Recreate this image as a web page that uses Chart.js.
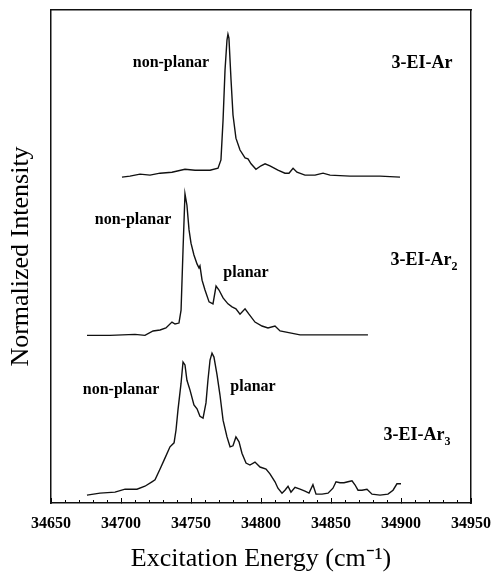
<!DOCTYPE html>
<html>
<head>
<meta charset="utf-8">
<script src="https://cdn.jsdelivr.net/npm/chart.js@4/dist/chart.umd.min.js"></script>
<style>
  html, body { margin: 0; padding: 0; background: #fff; }
  canvas { display: block; }
</style>
</head>
<body>
<canvas id="spectraChart" width="494" height="575"></canvas>
<script>
// excitation energies (cm-1) and normalized intensity (offset traces, 0-100 scale)
var arEnergy = [34700.7, 34706.4, 34713.6, 34720.7, 34727.9, 34736.4, 34745.7, 34752.9, 34763.6, 34769.3,
    34771.4, 34772.9, 34774.3, 34775.7, 34776.4, 34777.1, 34778.6, 34780.0, 34782.1, 34785.0,
    34788.6, 34790.7, 34792.9, 34796.4, 34800.0, 34802.9, 34806.4, 34812.1, 34817.1, 34820.0,
    34822.9, 34825.7, 34831.4, 34838.6, 34844.3, 34849.3, 34863.6, 34885.0, 34899.3];
var arIntensity = [66.1, 66.3, 66.7, 66.5, 66.9, 67.1, 67.7, 67.5, 67.5, 67.9,
    69.6, 77.7, 87.8, 93.9, 95.1, 94.3, 85.8, 78.7, 74.0, 71.6,
    70.0, 69.8, 68.8, 67.7, 68.4, 68.8, 68.4, 67.5, 66.9, 66.9,
    67.9, 67.1, 66.5, 66.5, 66.9, 66.5, 66.3, 66.3, 66.1];

var ar2Energy = [34675.7, 34692.1, 34710.0, 34717.1, 34722.9, 34727.9, 34732.1, 34736.4, 34738.6, 34741.4,
    34742.9, 34744.3, 34745.7, 34747.1, 34748.6, 34750.0, 34752.1, 34754.3, 34755.7, 34756.4,
    34757.9, 34760.0, 34762.9, 34765.7, 34767.9, 34770.0, 34772.9, 34776.4, 34779.3, 34782.1,
    34785.0, 34788.6, 34791.4, 34795.7, 34800.7, 34805.0, 34810.0, 34813.6, 34820.7, 34827.9,
    34842.1, 34856.4, 34876.4];
var ar2Intensity = [34.0, 34.0, 34.2, 34.0, 34.9, 35.1, 35.5, 36.7, 36.3, 36.5,
    39.1, 51.3, 62.7, 60.4, 55.4, 52.7, 50.3, 48.5, 47.7, 48.1,
    45.2, 43.2, 40.8, 40.4, 44.0, 43.2, 41.6, 40.4, 39.8, 39.4,
    38.3, 39.4, 38.3, 36.7, 35.9, 35.5, 35.9, 34.9, 34.5, 34.1,
    34.1, 34.1, 34.1];

var ar3Energy = [34675.7, 34685.0, 34695.7, 34702.9, 34711.4, 34717.1, 34722.1, 34724.3, 34727.9, 34731.4,
    34735.0, 34737.9, 34739.3, 34740.7, 34742.9, 34744.3, 34745.7, 34747.1, 34749.3, 34752.1,
    34754.3, 34756.4, 34758.6, 34760.7, 34762.1, 34763.6, 34765.0, 34766.4, 34768.6, 34770.7,
    34772.9, 34775.7, 34777.9, 34780.0, 34782.1, 34784.3, 34786.4, 34789.3, 34792.1, 34795.7,
    34799.3, 34803.6, 34806.4, 34810.0, 34812.1, 34815.0, 34817.1, 34819.3, 34821.4, 34824.3,
    34827.9, 34831.4, 34834.3, 34837.1, 34839.3, 34843.6, 34847.9, 34851.4, 34853.6, 34856.4,
    34859.3, 34862.1, 34865.0, 34867.1, 34869.3, 34872.1, 34875.7, 34879.3, 34885.0, 34890.7,
    34894.3, 34897.1, 34900.0];
var ar3Intensity = [1.6, 2.0, 2.2, 2.8, 2.8, 3.4, 4.3, 4.7, 6.9, 9.1,
    11.4, 12.2, 14.8, 18.9, 24.3, 28.6, 28.0, 24.9, 22.9, 19.9,
    19.1, 17.6, 17.2, 20.3, 24.9, 29.0, 30.4, 29.6, 26.0, 21.9,
    16.8, 13.4, 11.4, 11.6, 13.4, 12.4, 10.1, 8.1, 7.7, 8.3,
    7.3, 6.9, 5.9, 4.3, 3.0, 2.0, 2.6, 3.4, 2.2, 3.2,
    2.8, 2.4, 2.0, 3.7, 1.8, 1.8, 2.0, 3.0, 4.3, 4.1,
    4.1, 4.3, 4.5, 3.7, 2.6, 2.6, 2.8, 1.8, 1.6, 1.8,
    2.6, 3.9, 3.9];

// text labels placed in data coordinates
var noteText = ['non-planar', '3-EI-Ar', 'non-planar', 'planar', '3-EI-Ar', 'non-planar', 'planar', '3-EI-Ar'];
var noteSub = ['', '', '', '', '2', '', '', '3'];
var noteEnergy = [34735.7, 34915.0, 34708.6, 34789.3, 34916.5, 34700.0, 34794.3, 34911.5];
var noteIntensity = [89.2, 89.2, 57.4, 46.7, 49.3, 22.9, 23.5, 13.8];

var serif = '"Liberation Serif", "Times New Roman", serif';

function toPoints(xs, ys) {
    return xs.map(function (x, i) { return { x: x, y: ys[i] }; });
}

var notesPlugin = {
    id: 'notes',
    afterDatasetsDraw: function (chart) {
        var ctx = chart.ctx;
        var xs = chart.scales.x, ys = chart.scales.y;
        ctx.save();
        ctx.fillStyle = '#000';
        ctx.textBaseline = 'middle';
        ctx.textAlign = 'left';
        for (var i = 0; i < noteText.length; i++) {
            var big = noteText[i].indexOf('3-EI') === 0;
            var mainFont = 'bold ' + (big ? 18 : 16) + 'px ' + serif;
            var subFont = 'bold 12px ' + serif;
            ctx.font = mainFont;
            var w1 = ctx.measureText(noteText[i]).width;
            ctx.font = subFont;
            var w2 = noteSub[i] ? ctx.measureText(noteSub[i]).width : 0;
            var px = xs.getPixelForValue(noteEnergy[i]) - (w1 + w2) / 2;
            var py = ys.getPixelForValue(noteIntensity[i]);
            ctx.font = mainFont;
            ctx.fillText(noteText[i], px, py);
            if (noteSub[i]) {
                ctx.font = subFont;
                ctx.fillText(noteSub[i], px + w1, py + 7);
            }
        }
        ctx.restore();
    }
};

document.addEventListener("DOMContentLoaded", function () {
    Chart.defaults.color = '#000';
    Chart.defaults.font.family = serif;

    var lineStyle = { borderColor: '#111', borderWidth: 1.4, pointRadius: 0, tension: 0, fill: false, showLine: true };

    var ctx = document.getElementById('spectraChart').getContext('2d');
    new Chart(ctx, {
        type: 'scatter',
        data: {
            datasets: [
                Object.assign({ label: '3-EI-Ar', data: toPoints(arEnergy, arIntensity) }, lineStyle),
                Object.assign({ label: '3-EI-Ar2', data: toPoints(ar2Energy, ar2Intensity) }, lineStyle),
                Object.assign({ label: '3-EI-Ar3', data: toPoints(ar3Energy, ar3Intensity) }, lineStyle)
            ]
        },
        options: {
            responsive: false,
            animation: false,
            layout: { padding: 0 },
            plugins: { legend: { display: false }, tooltip: { enabled: false } },
            scales: {
                xMinor: {
                    type: 'linear', position: 'bottom', weight: 0,
                    min: 34650, max: 34950,
                    ticks: { display: false, stepSize: 10 },
                    grid: { drawOnChartArea: false, tickLength: -3, color: '#000', tickWidth: 1 },
                    border: { display: false },
                    afterFit: function (s) { s.height = 0; }
                },
                x: {
                    type: 'linear', position: 'bottom', weight: 1,
                    min: 34650, max: 34950,
                    ticks: {
                        stepSize: 50, autoSkip: false, maxRotation: 0, padding: 16,
                        font: { size: 16, weight: 'bold', family: serif },
                        callback: function (v) { return String(v); }
                    },
                    grid: { drawOnChartArea: false, tickLength: -5, color: '#000', tickWidth: 1 },
                    border: { color: '#111', width: 1.5 },
                    title: {
                        display: true, text: 'Excitation Energy (cm\u207B\u00B9)',
                        font: { size: 26, family: serif }, padding: { top: 0, bottom: 0 }
                    },
                    afterFit: function (s) {
                        s.height = 72;
                        s.paddingLeft = 20;
                        s.paddingRight = 20;
                    }
                },
                xTop: {
                    type: 'linear', position: 'top',
                    min: 34650, max: 34950,
                    ticks: { display: false },
                    grid: { display: false },
                    border: { color: '#111', width: 1.5 },
                    afterFit: function (s) { s.height = 10; }
                },
                y: {
                    type: 'linear', position: 'left',
                    min: 0, max: 100,
                    ticks: { display: false },
                    grid: { display: false },
                    border: { color: '#111', width: 1.5 },
                    title: {
                        display: true, text: 'Normalized Intensity',
                        font: { size: 26, family: serif }, padding: { top: 6, bottom: 0 }
                    },
                    afterFit: function (s) { s.width = 51; }
                },
                yRight: {
                    type: 'linear', position: 'right',
                    min: 0, max: 100,
                    ticks: { display: false },
                    grid: { display: false },
                    border: { color: '#111', width: 1.5 },
                    afterFit: function (s) { s.width = 23; }
                }
            }
        },
        plugins: [notesPlugin]
    });
});
</script>
</body>
</html>
